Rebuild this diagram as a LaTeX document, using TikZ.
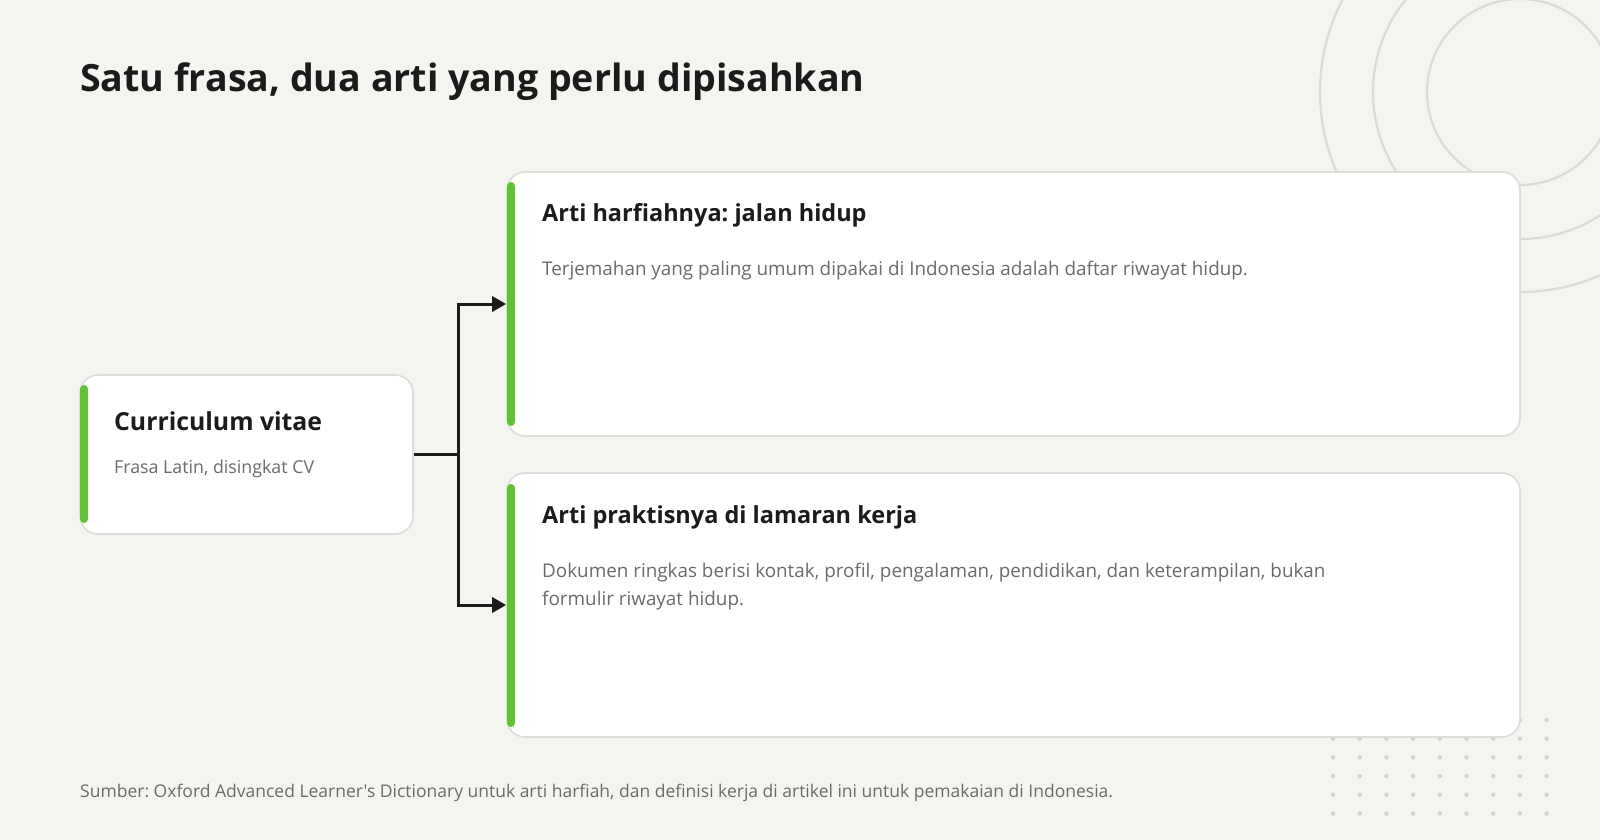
\documentclass[tikz,border=0pt]{standalone}
\usepackage{fontspec}
\setmainfont{Open Sans}[Ligatures=TeXOff]
\frenchspacing
\usetikzlibrary{arrows.meta}
\definecolor{bgc}{HTML}{F4F4F0}
\definecolor{ink}{HTML}{1B1B1B}
\definecolor{muted}{HTML}{6B6B6B}
\definecolor{edge}{HTML}{DDDDDA}
\definecolor{ring}{HTML}{DCDCD7}
\definecolor{dotc}{HTML}{D3D3CF}
\definecolor{leaf}{HTML}{62C234}
\tikzset{
  cardbox/.style={draw=edge, line width=1.6pt, fill=white, rounded corners=18pt, inner sep=0pt},
  accent/.style={draw=leaf, line width=8pt, line cap=round},
  maintitle/.style={anchor=base west, inner sep=0pt, text=ink, font=\fontsize{37.6}{44}\selectfont\bfseries},
  cardtitle/.style={anchor=base west, inner sep=0pt, text=ink, font=\fontsize{23.5}{28}\selectfont\bfseries},
  cvtitle/.style={anchor=base west, inner sep=0pt, text=ink, font=\fontsize{24.8}{28}\selectfont\bfseries},
  bodytext/.style={anchor=base west, inner sep=0pt, text=muted, align=left, font=\fontsize{18.85}{28}\selectfont},
  subtext/.style={anchor=base west, inner sep=0pt, text=muted, font=\fontsize{17.8}{22}\selectfont},
  foot/.style={anchor=base west, inner sep=0pt, text=muted, font=\fontsize{17.5}{20}\selectfont},
  wire/.style={draw=ink, line width=3pt},
  arrowwire/.style={wire, -{Triangle[length=14pt,width=15pt]}},
}
\begin{document}
\begin{tikzpicture}[x=1pt, y=-1pt]
\useasboundingbox (0,0) rectangle (1600,840);
\fill[bgc] (0,0) rectangle (1600,840);
% decorative rings
\begin{scope}
\clip (0,0) rectangle (1600,840);
\foreach \r in {93,147,200} {\draw[ring, line width=2.2pt] (1520,92) circle[radius=\r];}
\end{scope}
% dot grid
\foreach \i in {0,...,8} {\foreach \j in {0,...,5} {\fill[dotc] ({1333+26.7*\i},{720+18.7*\j}) circle[radius=2.2];}}
% title
\node[maintitle] (title) at (80,92) {Satu frasa, dua arti yang perlu dipisahkan};
% cards
\node[cardbox, minimum width=333pt, minimum height=159pt] (cv) at (246.5,454.5) {};
\node[cardbox, minimum width=1013pt, minimum height=264pt] (c1) at (1013.5,304) {};
\node[cardbox, minimum width=1013pt, minimum height=264pt] (c2) at (1013.5,605) {};
% accents
\draw[accent] (84,389) -- (84,519);
\draw[accent] (511,186) -- (511,422);
\draw[accent] (511,488) -- (511,723);
% texts
\node[cvtitle] (cvt) at (114,430) {Curriculum vitae};
\node[subtext] (cvs) at (114,473) {Frasa Latin, disingkat CV};
\node[cardtitle] (c1t) at (542,221) {Arti harfiahnya: jalan hidup};
\node[bodytext] (c1b) at (542,275) {Terjemahan yang paling umum dipakai di Indonesia adalah daftar riwayat hidup.};
\node[cardtitle] (c2t) at (542,523) {Arti praktisnya di lamaran kerja};
% base anchor of a two-line node sits on its last line
\node[bodytext] (c2b) at (542,605) {Dokumen ringkas berisi kontak, profil, pengalaman, pendidikan, dan keterampilan, bukan\\formulir riwayat hidup.};
\node[foot] (src) at (80,797) {Sumber: Oxford Advanced Learner's Dictionary untuk arti harfiah, dan definisi kerja di artikel ini untuk pemakaian di Indonesia.};
% connectors
\coordinate (split) at (458,454.5);
\draw[wire] (cv.east) -- (split);
\draw[arrowwire] (split) |- (c1.west);
\draw[arrowwire] (split) |- (c2.west);
\end{tikzpicture}
\end{document}
